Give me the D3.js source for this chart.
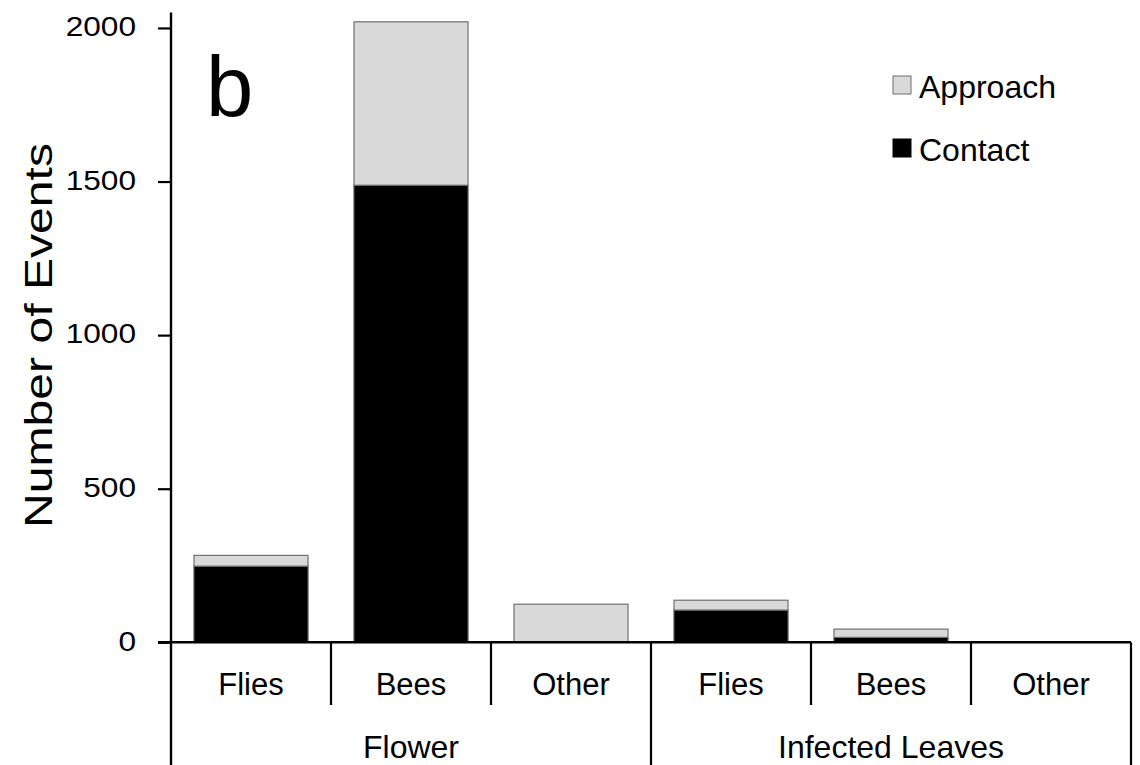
<!DOCTYPE html>
<html>
<head>
<meta charset="utf-8">
<script src="https://cdn.jsdelivr.net/npm/d3@7"></script>
<style>
  body { margin: 0; background: #fff; }
  svg { display: block; font-family: "Liberation Sans", Arial, sans-serif; }
</style>
</head>
<body>
<svg id="chart" width="1140" height="765"></svg>
<script>
// data
const categories = ["Flies", "Bees", "Other", "Flies", "Bees", "Other"];
const groups = ["Flower", "Infected Leaves"];
const groupOf = [0, 0, 0, 1, 1, 1];
const contact = [248, 1488, 0, 105, 16, 0];
const approach = [35, 532, 124, 32, 27, 0];
const yTicks = [0, 500, 1000, 1500, 2000];
const seriesNames = ["Contact", "Approach"];
const colors = { Contact: "#000000", Approach: "#d9d9d9" };

const svg = d3.select("#chart");
const bottom = 765;

const x = d3.scaleBand()
  .domain(d3.range(categories.length))
  .range([171, 1131])
  .paddingInner(0.2875)
  .paddingOuter(0.14375);

const y = d3.scaleLinear().domain([0, 2050]).range([642.3, 12.6]);

const rows = categories.map((c, i) => ({ i, Contact: contact[i], Approach: approach[i] }));
const stack = d3.stack().keys(seriesNames)(rows);

// bars
svg.append("g").selectAll("g")
  .data(stack)
  .join("g")
  .attr("fill", d => colors[d.key])
  .attr("stroke", d => d.key === "Approach" ? "#6f6f6f" : "#555")
  .attr("stroke-width", 1.2)
  .selectAll("rect")
  .data(d => d.filter(s => s[1] - s[0] > 0))
  .join("rect")
  .attr("x", d => x(d.data.i))
  .attr("width", x.bandwidth())
  .attr("y", d => y(d[1]))
  .attr("height", d => y(d[0]) - y(d[1]));

// y axis
const sx = 1.13;
const yAxis = d3.axisLeft(y).tickValues(yTicks).tickFormat(d3.format("d")).tickSize(13).tickPadding(0);
const yg = svg.append("g").attr("transform", "translate(171,0)").call(yAxis);
yg.select(".domain").remove();
yg.selectAll(".tick line").attr("stroke", "#000").attr("stroke-width", 2.2);
yg.selectAll(".tick text")
  .style("font-size", "28px")
  .style("font-family", "'Liberation Sans', Arial, sans-serif")
  .attr("fill", "#000")
  .attr("x", -35 / sx)
  .attr("dy", "0.35em")
  .attr("transform", `translate(0,-2) scale(${sx},1)`);

svg.append("line")
  .attr("x1", 171).attr("x2", 171)
  .attr("y1", y(2050)).attr("y2", bottom)
  .attr("stroke", "#000").attr("stroke-width", 2.4);

// zero line / x axis
const step = x.step();
const edge = i => x(i) - step * x.paddingInner() / 2;
svg.append("line")
  .attr("x1", 158).attr("x2", edge(categories.length - 1) + step)
  .attr("y1", y(0)).attr("y2", y(0))
  .attr("stroke", "#000").attr("stroke-width", 2.6);

// separators
const seps = d3.range(1, categories.length + 1);
svg.append("g").selectAll("line")
  .data(seps)
  .join("line")
  .attr("x1", i => edge(i - 1) + step)
  .attr("x2", i => edge(i - 1) + step)
  .attr("y1", y(0))
  .attr("y2", i => (i === categories.length || groupOf[i] !== groupOf[i - 1]) ? bottom : 705)
  .attr("stroke", "#000").attr("stroke-width", 2.2);

// category labels
const xAxis = d3.axisBottom(x).tickSize(0).tickPadding(0).tickFormat(i => categories[i]);
const xg = svg.append("g").attr("transform", `translate(0,${y(0)})`).call(xAxis);
xg.select(".domain").remove();
xg.selectAll(".tick text")
  .style("font-size", "31px")
  .style("font-family", "'Liberation Sans', Arial, sans-serif")
  .attr("fill", "#000")
  .attr("y", 695 - y(0))
  .attr("dy", 0);

// group labels
svg.append("g").selectAll("text")
  .data(groups)
  .join("text")
  .attr("x", (g, gi) => {
    const idx = d3.range(categories.length).filter(i => groupOf[i] === gi);
    return (edge(idx[0]) + edge(idx[idx.length - 1]) + step) / 2;
  })
  .attr("y", 758)
  .attr("text-anchor", "middle")
  .attr("font-size", 32)
  .text(d => d);

// y title
svg.append("text")
  .attr("transform", "translate(52,335.5) rotate(-90)")
  .attr("text-anchor", "middle")
  .attr("font-size", 39)
  .attr("textLength", 385)
  .attr("lengthAdjust", "spacingAndGlyphs")
  .text("Number of Events");

// panel letter
svg.append("text")
  .attr("x", 206).attr("y", 115.5)
  .attr("font-size", 85)
  .text("b");

// legend
const legend = svg.append("g").selectAll("g")
  .data(["Approach", "Contact"])
  .join("g")
  .attr("transform", (d, i) => `translate(893,${76 + i * 63})`);
legend.append("rect")
  .attr("width", 18).attr("height", 18)
  .attr("fill", d => colors[d])
  .attr("stroke", d => d === "Approach" ? "#6f6f6f" : "#000")
  .attr("stroke-width", 1);
legend.append("text")
  .attr("x", 26).attr("y", 21.5)
  .attr("font-size", 32)
  .text(d => d);
</script>
</body>
</html>
